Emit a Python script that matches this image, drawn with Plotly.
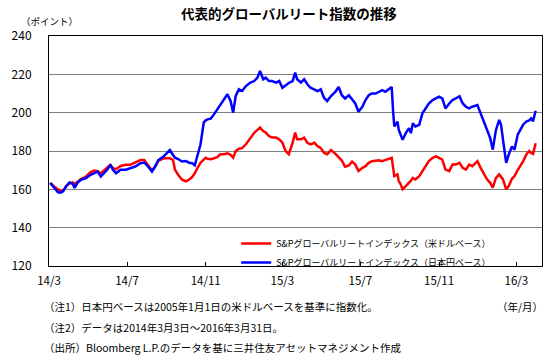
import plotly.graph_objects as go

dates = [
    "2014-03-03","2014-03-07","2014-03-11","2014-03-15","2014-03-19","2014-03-23","2014-03-28",
    "2014-04-02","2014-04-07","2014-04-10","2014-04-15","2014-04-20","2014-04-28",
    "2014-05-05","2014-05-11","2014-05-16","2014-05-21","2014-05-26","2014-05-31",
    "2014-06-05","2014-06-09","2014-06-14","2014-06-21","2014-06-29",
    "2014-07-06","2014-07-14","2014-07-22","2014-07-28",
    "2014-08-03","2014-08-09","2014-08-14","2014-08-19","2014-08-27",
    "2014-09-01","2014-09-06","2014-09-11","2014-09-14","2014-09-19","2014-09-25",
    "2014-10-01","2014-10-06","2014-10-11","2014-10-15","2014-10-19","2014-10-24","2014-10-29",
    "2014-11-01","2014-11-04","2014-11-09","2014-11-14","2014-11-19","2014-11-24","2014-11-30",
    "2014-12-05","2014-12-10","2014-12-14","2014-12-18","2014-12-23","2014-12-28",
    "2015-01-03","2015-01-10","2015-01-16","2015-01-21","2015-01-25","2015-01-30",
    "2015-02-03","2015-02-08","2015-02-13","2015-02-19","2015-02-24",
    "2015-03-01","2015-03-06","2015-03-11","2015-03-17","2015-03-21","2015-03-24","2015-03-30",
    "2015-04-04","2015-04-09","2015-04-14","2015-04-20","2015-04-25","2015-04-30",
    "2015-05-05","2015-05-10","2015-05-16","2015-05-23","2015-05-28",
    "2015-06-02","2015-06-07","2015-06-13","2015-06-18","2015-06-23","2015-06-28",
    "2015-07-04","2015-07-09","2015-07-14","2015-07-19","2015-07-25","2015-07-30",
    "2015-08-04","2015-08-09","2015-08-14","2015-08-19","2015-08-21","2015-08-23","2015-08-28","2015-08-30",
    "2015-09-02","2015-09-05","2015-09-10","2015-09-15","2015-09-18","2015-09-21","2015-09-25",
    "2015-10-01","2015-10-06","2015-10-11","2015-10-16","2015-10-22","2015-10-27",
    "2015-11-01","2015-11-06","2015-11-11","2015-11-17","2015-11-22","2015-11-27",
    "2015-12-03","2015-12-08","2015-12-13","2015-12-18","2015-12-23","2015-12-31",
    "2016-01-05","2016-01-10","2016-01-15","2016-01-20","2016-01-24","2016-01-29",
    "2016-02-03","2016-02-06","2016-02-09","2016-02-14","2016-02-18","2016-02-23","2016-02-27",
    "2016-03-03","2016-03-08","2016-03-12","2016-03-17","2016-03-21","2016-03-24","2016-03-27","2016-03-31",
]

usd_base = [
    163.3,162.0,160.9,160.0,159.3,159.2,161.8,
    163.0,163.6,162.8,164.3,165.3,166.7,
    169.0,169.8,169.5,168.4,169.8,171.5,
    172.8,171.0,170.5,172.2,172.8,
    172.8,174.0,175.3,175.3,
    172.8,169.8,171.9,174.9,176.2,
    176.2,176.2,175.3,170.2,167.6,165.0,
    164.2,165.0,166.5,168.4,171.0,173.9,175.5,
    176.5,175.9,175.7,176.2,176.8,178.3,178.3,
    178.8,178.0,176.5,180.0,181.2,181.5,
    183.5,187.0,189.5,191.0,192.2,190.4,
    189.6,187.8,187.0,187.0,186.1,
    184.3,180.0,178.3,184.3,189.6,186.1,186.1,
    187.0,184.3,183.5,184.3,182.6,181.5,
    179.1,178.3,180.5,178.5,176.8,
    175.0,171.8,172.5,174.5,172.9,169.5,
    171.2,172.1,173.8,174.7,175.0,175.2,
    174.7,175.5,175.9,176.4,172.1,166.9,167.8,164.3,
    162.6,160.0,161.7,163.4,164.5,166.0,165.2,
    166.9,169.5,172.1,174.7,176.4,177.2,
    176.4,175.5,170.3,169.5,172.9,172.9,
    173.8,171.2,170.3,172.9,172.1,174.7,
    171.2,167.8,165.2,163.4,160.9,166.0,
    167.8,166.5,165.2,160.0,161.7,165.5,166.9,
    170.0,172.5,175.0,178.5,180.0,179.0,178.5,184.0,
]

jpy_base = [
    163.3,161.6,160.2,158.5,158.3,159.0,161.6,
    163.6,162.9,160.7,163.6,165.0,165.9,
    167.6,168.4,169.3,166.7,168.4,170.2,
    172.8,170.2,168.4,170.2,170.2,
    171.0,171.9,173.6,174.0,
    171.9,169.3,171.9,175.3,177.1,
    178.8,180.5,177.9,176.5,175.8,174.5,
    174.8,173.9,173.6,172.5,177.4,183.5,194.8,
    196.0,196.5,196.9,199.1,201.7,204.3,207.0,
    209.6,206.1,200.0,208.7,212.2,211.3,
    213.9,215.7,216.5,218.3,221.7,217.4,
    218.3,216.5,216.5,215.7,216.5,
    213.0,214.5,215.5,216.5,220.9,217.4,215.7,
    217.4,214.8,213.0,212.2,211.3,212.2,
    207.8,206.1,208.7,211.0,213.4,
    209.1,207.4,209.1,206.6,204.8,200.5,
    203.1,206.6,209.1,210.0,210.0,210.9,
    211.7,210.9,212.0,213.4,201.4,192.8,195.3,191.0,
    188.4,185.9,189.3,191.9,189.3,194.5,192.8,
    193.6,199.7,202.2,204.8,206.6,207.4,
    208.3,207.4,202.2,204.8,206.6,207.4,
    208.6,204.8,203.1,202.2,203.1,204.0,
    199.7,195.3,191.0,186.7,180.7,191.0,
    196.2,193.6,185.9,173.8,178.1,182.4,180.7,
    188.5,191.5,194.0,195.5,196.0,197.0,195.5,201.0,
]

tick_dates = ["2014-03-01","2014-07-01","2014-11-01","2015-03-01","2015-07-01","2015-11-01","2016-03-01"]
tick_labels = ["14/3","14/7","14/11","15/3","15/7","15/11","16/3"]

series_names = ["S&Pグローバルリートインデックス（米ドルベース）",
                "S&Pグローバルリートインデックス（日本円ベース）"]

W, H = 558, 356
L, R, T, B = 39, 542, 36, 266
FONT = "Noto Sans CJK JP"

def px(x):
    return (x - L) / (R - L)

def py(y):
    return (B - y) / (B - T)

fig = go.Figure()
fig.add_trace(go.Scatter(x=dates, y=usd_base, mode="lines", name=series_names[0],
                         line=dict(color="#FF0000", width=2.5)))
fig.add_trace(go.Scatter(x=dates, y=jpy_base, mode="lines", name=series_names[1],
                         line=dict(color="#0000FF", width=2.5)))

fig.update_layout(
    width=W, height=H,
    margin=dict(l=L, r=W - R, t=T, b=H - B, pad=0),
    paper_bgcolor="white", plot_bgcolor="white",
    font=dict(family=FONT, color="#000000"),
    showlegend=True,
    legend=dict(x=px(230), y=py(229), xanchor="left", yanchor="top",
                bgcolor="rgba(0,0,0,0)", font=dict(size=9, family=FONT),
                itemwidth=30, tracegroupgap=0),
    xaxis=dict(type="date", range=["2014-03-01", "2016-04-10"],
               tickvals=tick_dates, ticktext=tick_labels,
               ticks="inside", ticklen=4, tickcolor="#000000",
               showgrid=False, showline=True, linecolor="#000000", linewidth=1,
               mirror=True, tickfont=dict(size=11.5, family=FONT), ticklabelstandoff=4,
               zeroline=False),
    yaxis=dict(range=[120, 240], dtick=20, tick0=120,
               showgrid=True, gridcolor="#808080", gridwidth=1,
               showline=True, linecolor="#000000", linewidth=1, mirror=True,
               ticks="", tickfont=dict(size=12, family=FONT), ticklabelstandoff=14,
               zeroline=False),
)

annos = [
    dict(text="<b>代表的グローバルリート指数の推移</b>", x=px(284), y=py(13),
         xanchor="center", yanchor="middle", font=dict(size=13.5)),
    dict(text="（ポイント）", x=px(8), y=py(21), xanchor="left", yanchor="middle",
         font=dict(size=9.5)),
    dict(text="（注1）日本円ベースは2005年1月1日の米ドルベースを基準に指数化。",
         x=px(32), y=py(306), xanchor="left", yanchor="middle", font=dict(size=10.5)),
    dict(text="（年/月）", x=px(545), y=py(306), xanchor="right", yanchor="middle",
         font=dict(size=10.5)),
    dict(text="（注2）データは2014年3月3日～2016年3月31日。",
         x=px(32), y=py(327), xanchor="left", yanchor="middle", font=dict(size=10.5)),
    dict(text="（出所）Bloomberg L.P.のデータを基に三井住友アセットマネジメント作成",
         x=px(32), y=py(347), xanchor="left", yanchor="middle", font=dict(size=10.5)),
]
for a in annos:
    a.update(xref="paper", yref="paper", showarrow=False)
    fig.add_annotation(**a)

fig.write_html("out.html", config={"displayModeBar": False},
               post_script="document.body.style.margin='0';document.body.style.overflow='hidden';")
